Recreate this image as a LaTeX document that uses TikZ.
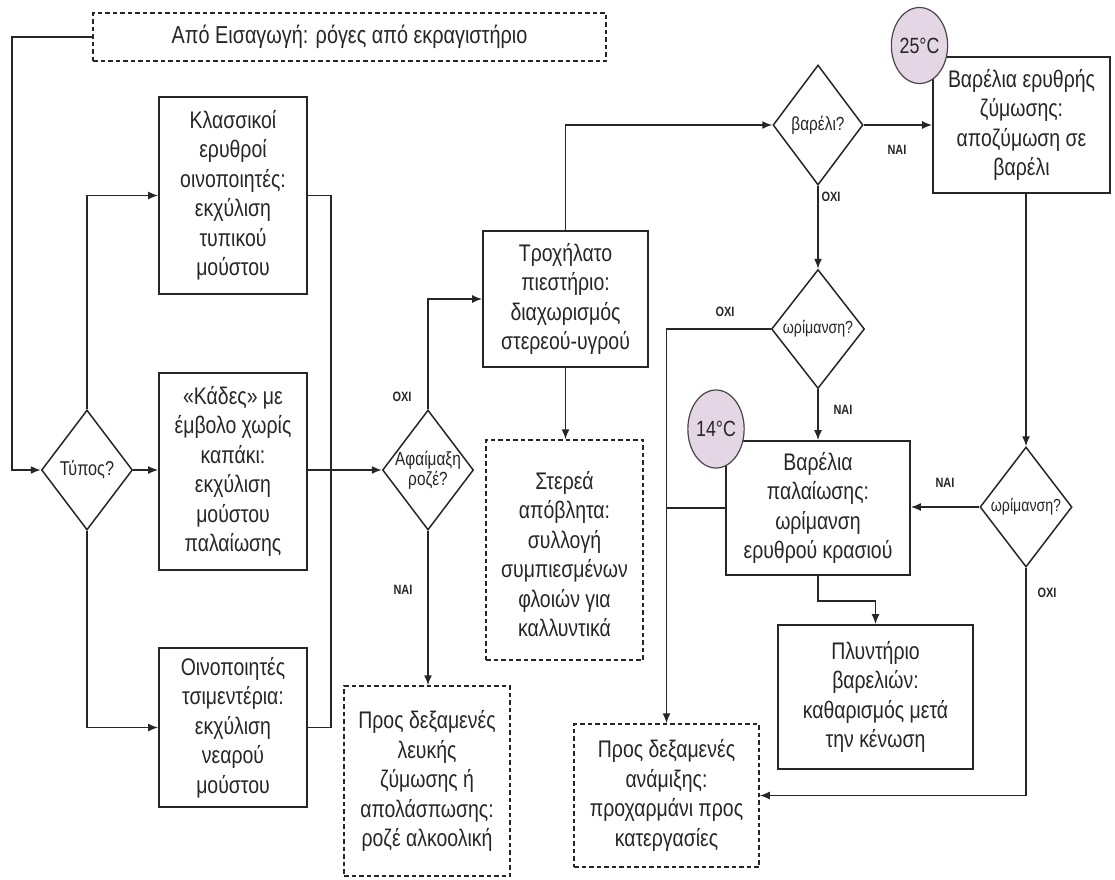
\documentclass[tikz,border=0pt]{standalone}
\usepackage{fontspec}
\setmainfont{Liberation Sans}[FakeStretch=0.81]
\usetikzlibrary{shapes.geometric,arrows.meta}
\definecolor{ink}{HTML}{262626}
\definecolor{lilac}{HTML}{E4D6E4}
\begin{document}
\begin{tikzpicture}[x=1pt,y=-1pt,
  ln/.style={draw=ink,line width=1.5pt},
  arr/.style={ln,-{Latex[length=10pt,width=8pt]}},
  proc/.style={draw=ink,line width=1.8pt,fill=white,inner sep=0pt,align=center,
    text=ink,font=\fontsize{24}{29.5}\selectfont},
  ext/.style={proc,line width=1.5pt,dash pattern=on 4.5pt off 3pt},
  dia/.style={draw=ink,line width=1.5pt,diamond,inner sep=0pt,fill=white},
  dtxt/.style={text=ink,inner sep=0pt,align=center,font=\fontsize{20}{21}\selectfont},
  temp/.style={ellipse,draw=ink!85,line width=1.2pt,fill=lilac,inner sep=0pt,
    minimum width=55pt,minimum height=76pt,text=ink,font=\fontsize{22}{23}\selectfont},
  yn/.style={text=ink,inner sep=0pt,font=\fontsize{13.5}{14}\bfseries\selectfont}]

\useasboundingbox (0,0) rectangle (1115,879);
\fill[white] (0,0) rectangle (1115,879);

% source
\node[ext,minimum width=513pt,minimum height=48pt,font=\fontsize{24.5}{28}\selectfont]
  (src) at (349.5,37) {Από Εισαγωγή: ρόγες από εκραγιστήριο};

% first decision and extraction lines
\node[dia,minimum width=91pt,minimum height=120pt] (typ) at (87,470) {};
\node[dtxt] (typT) at (typ.center) {Τύπος?};

\node[proc,minimum width=148pt,minimum height=197pt] (b1) at (233,195.5)
  {Κλασσικοί\\ερυθροί\\οινοποιητές:\\εκχύλιση\\τυπικού\\μούστου};
\node[proc,minimum width=148pt,minimum height=197pt] (b2) at (233,471.5)
  {«Κάδες» με\\έμβολο χωρίς\\καπάκι:\\εκχύλιση\\μούστου\\παλαίωσης};
\node[proc,minimum width=148pt,minimum height=159pt] (b3) at (233,727.5)
  {Οινοποιητές\\τσιμεντέρια:\\εκχύλιση\\νεαρού\\μούστου};

% rosé bleeding
\node[dia,minimum width=91pt,minimum height=120pt] (rose) at (428,470) {};
\node[dtxt,font=\fontsize{19}{20}\selectfont] (roseT) at (rose.center) {Αφαίμαξη\\ροζέ?};
\node[ext,minimum width=166pt,minimum height=190pt] (rosout) at (427,781)
  {Προς δεξαμενές\\λευκής\\ζύμωσης ή\\απολάσπωσης:\\ροζέ αλκοολική};

% press
\node[proc,minimum width=165pt,minimum height=136pt] (press) at (565.5,299)
  {Τροχήλατο\\πιεστήριο:\\διαχωρισμός\\στερεού-υγρού};
\node[ext,minimum width=157pt,minimum height=220pt,text depth=0pt] (waste) at (564.5,550)
  {\\[-4pt]Στερεά\\απόβλητα:\\συλλογή\\συμπιεσμένων\\φλοιών για\\καλλυντικά};

% barrel fermentation
\node[dia,minimum width=90pt,minimum height=120pt] (barrel) at (818,125) {};
\node[dtxt,font=\fontsize{19}{20}\selectfont] (barrelT) at (barrel.center) {βαρέλι?};
\node[proc,minimum width=177pt,minimum height=136pt] (ferm) at (1021.5,125)
  {Βαρέλια ερυθρής\\ζύμωσης:\\αποζύμωση σε\\βαρέλι};

% maturation
\node[dia,minimum width=93pt,minimum height=119pt] (mat1) at (818,329) {};
\node[dtxt,font=\fontsize{17.5}{18}\selectfont] (mat1T) at (mat1.center) {ωρίμανση?};
\node[proc,minimum width=184pt,minimum height=134pt] (age) at (818,508)
  {Βαρέλια\\παλαίωσης:\\ωρίμανση\\ερυθρού κρασιού};
\node[dia,minimum width=92pt,minimum height=120pt] (mat2) at (1026,507) {};
\node[dtxt,font=\fontsize{17.5}{18}\selectfont] (mat2T) at (mat2.center) {ωρίμανση?};

\node[proc,minimum width=195pt,minimum height=144pt] (wash) at (875.5,697)
  {Πλυντήριο\\βαρελιών:\\καθαρισμός μετά\\την κένωση};
\node[ext,minimum width=185pt,minimum height=143pt] (mix) at (666.5,795.5)
  {Προς δεξαμενές\\ανάμιξης:\\προχαρμάνι προς\\κατεργασίες};

% connectors
\coordinate (lc) at (12,37);
\coordinate (col) at (331,470);
\draw[arr] (src.west) -- (lc) |- (typ.west);
\draw[arr] (typ.north) |- (b1.west);
\draw[arr] (typ.east) -- (typ.east -| b2.west);
\draw[arr] (typ.south) |- (b3.west);
\draw[ln] (b1.east) -| (col) |- (b3.east);
\draw[arr] (b2.east |- rose.west) -- (rose.west);
\draw[arr] (rose.north) |- (press.west);
\draw[arr] (rose.south) -- (rose.south |- rosout.north);
\draw[arr] (press.north) |- (barrel.west);
\draw[arr] (press.south) -- (press.south |- waste.north);
\draw[arr] (barrel.east) -- (barrel.east -| ferm.west);
\draw[arr] (barrel.south) -- (mat1.north);
\draw[arr] (mat2.north |- ferm.south) -- (mat2.north);
\draw[arr] (mat2.west) -- (mat2.west -| age.east);
\draw[arr] (mat1.south) -- (age.north);
\draw[arr] (mat1.west) -| (mix.north);
\draw[ln] (age.west) -- (age.west -| mix.north);
\draw[arr] (age.south) -- ++(0,25) -| (wash.north);
\draw[arr] (mat2.south) |- (mix.east);

% temperatures
\node[temp] (t25) at (919.5,45.5) {25°C};
\node[temp,minimum height=78pt] (t14) at (716,429) {14°C};

% yes / no labels
\node[yn] (l1) at (402,397) {ΟΧΙ};
\node[yn] (l2) at (403,590) {ΝΑΙ};
\node[yn] (l3) at (897,150) {ΝΑΙ};
\node[yn] (l4) at (831,197) {ΟΧΙ};
\node[yn] (l5) at (725,312) {ΟΧΙ};
\node[yn] (l6) at (843,410) {ΝΑΙ};
\node[yn] (l7) at (945,483) {ΝΑΙ};
\node[yn] (l8) at (1047,593) {ΟΧΙ};
\end{tikzpicture}
\end{document}
